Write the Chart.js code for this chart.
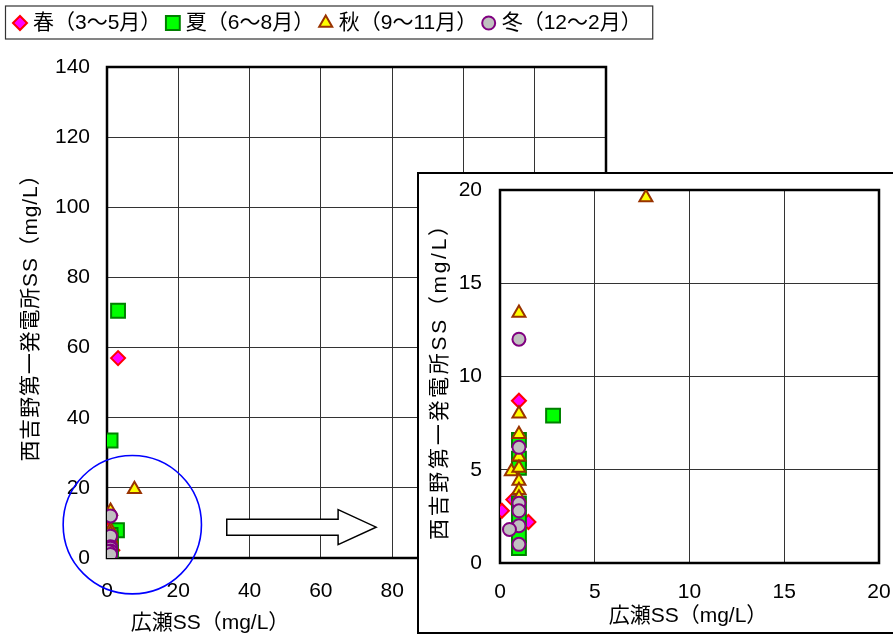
<!DOCTYPE html>
<html>
<head>
<meta charset="utf-8">
<script src="https://cdn.jsdelivr.net/npm/chart.js@4.4.0/dist/chart.umd.min.js"></script>
<style>
  html, body { margin: 0; padding: 0; background: #fff; overflow: hidden; }
  #mainChart { position: absolute; left: 0; top: 0; }
  #insetBox { position: absolute; left: 417px; top: 172px; width: 490px; height: 462px;
              border: 2px solid #000; box-sizing: border-box; background: #fff; }
  #insetChart { display: block; }
</style>
</head>
<body>
<canvas id="mainChart" width="893" height="639"></canvas>
<div id="insetBox"><canvas id="insetChart" width="486" height="458"></canvas></div>
<script>
// 広瀬SS (x) vs 西吉野第一発電所SS (y), by season
const seasonLabels = ['春（3～5月）', '夏（6～8月）', '秋（9～11月）', '冬（12～2月）'];

const springX = [3.1, 1.0, 0.7, 0.1, 1.5];
const springY = [57.0, 8.7, 3.4, 2.8, 2.2];
const summerX = [3.1, 1.0, 2.8, 1.0, 1.0, 1.0, 1.0, 1.0, 1.0, 1.0];
const summerY = [70.5, 33.5, 7.9, 6.6, 5.6, 5.1, 3.2, 2.4, 1.5, 0.8];
const autumnX = [7.7, 1.0, 1.0, 1.0, 1.0, 0.6, 1.0, 1.0, 1.0, 1.0];
const autumnY = [19.6, 13.4, 8.0, 6.9, 5.7, 4.9, 5.1, 4.4, 3.9, 3.5];
const winterX = [1.0, 1.0, 1.0, 1.0, 1.0, 0.5, 1.0];
const winterY = [12.0, 6.2, 3.2, 2.8, 2.0, 1.8, 1.0];

const mainTicks = [0, 20, 40, 60, 80, 100, 120, 140];
const insetTicks = [0, 5, 10, 15, 20];

const xTitle = '広瀬SS（mg/L）';
const yTitle = '西吉野第一発電所SS（mg/L）';

// zoom annotation on the main chart (data units)
const circleAt = [7.1, 9.5];
const circleR = 19.4;
const arrowFrom = [33.6, 8.8];
const arrowTo = [75.5, 8.8];

const FONT = "'Liberation Sans', 'Noto Sans CJK JP', sans-serif";
Chart.defaults.color = '#000';
Chart.defaults.font.family = FONT;

function pts(xs, ys) {
  return xs.map(function(v, i) { return { x: v, y: ys[i] }; });
}

function makeDatasets() {
  return [
    { label: seasonLabels[0], data: pts(springX, springY), pointStyle: 'rectRot', pointRadius: 7,
      backgroundColor: '#FF00FF', borderColor: '#FF0000', order: 4 },
    { label: seasonLabels[1], data: pts(summerX, summerY), pointStyle: 'rect', pointRadius: 9.8,
      backgroundColor: '#00FF00', borderColor: '#008000', order: 3 },
    { label: seasonLabels[2], data: pts(autumnX, autumnY), pointStyle: 'triangle', pointRadius: 7.5,
      backgroundColor: '#FFFF00', borderColor: '#993300', order: 2 },
    { label: seasonLabels[3], data: pts(winterX, winterY), pointStyle: 'circle', pointRadius: 6.5,
      backgroundColor: '#C0C0C0', borderColor: '#800080', order: 1 }
  ].map(function(d) {
    d.pointBorderWidth = 2;
    d.pointHoverRadius = d.pointRadius;
    d.showLine = false;
    return d;
  });
}

function marker(ctx, ds, cx, cy) {
  ctx.fillStyle = ds.backgroundColor;
  ctx.strokeStyle = ds.borderColor;
  ctx.lineWidth = 2;
  Chart.helpers.drawPoint(ctx, { pointStyle: ds.pointStyle, radius: ds.pointRadius, rotation: 0, borderWidth: 2 }, cx, cy);
}

// text stretched along its run, like the spreadsheet's axis titles
function spacedText(ctx, text, cx, cy, size, length, rotate) {
  ctx.save();
  ctx.translate(cx, cy);
  if (rotate) ctx.rotate(-Math.PI / 2);
  ctx.font = size + 'px ' + FONT;
  ctx.fillStyle = '#000';
  ctx.textAlign = 'left';
  ctx.textBaseline = 'middle';
  const n = Array.from(text).length;
  const w0 = ctx.measureText(text).width;
  const ls = Math.max(0, (length - w0) / (n - 1));
  if ('letterSpacing' in ctx && ls > 0) {
    ctx.letterSpacing = ls + 'px';
    ctx.fillText(text, -(w0 + ls * (n - 1)) / 2, 0);
  } else {
    ctx.fillText(text, -w0 / 2, 0);
  }
  ctx.restore();
}

// thick frame round the plot area, under the points
const frame = {
  id: 'frame',
  beforeDatasetsDraw(chart) {
    const { ctx, chartArea: a } = chart;
    ctx.save();
    ctx.lineWidth = 2.5;
    ctx.strokeStyle = '#000';
    ctx.strokeRect(a.left, a.top, a.right - a.left, a.bottom - a.top);
    ctx.restore();
  }
};

// axis titles placed where the original has them
const axisTitles = {
  id: 'axisTitles',
  afterDraw(chart, args, o) {
    spacedText(chart.ctx, xTitle, o.x[0], o.x[1], 21, o.x[2], false);
    spacedText(chart.ctx, yTitle, o.y[0], o.y[1], 21, o.y[2], true);
  }
};

// legend box, blue circle and arrow for the main chart
const mainDecor = {
  id: 'mainDecor',
  afterDraw(chart) {
    const { ctx, scales: { x, y } } = chart;
    ctx.save();

    // blue circle round the crowded corner
    ctx.beginPath();
    ctx.arc(x.getPixelForValue(circleAt[0]), y.getPixelForValue(circleAt[1]),
            x.getPixelForValue(circleR) - x.getPixelForValue(0), 0, Math.PI * 2);
    ctx.strokeStyle = '#0000FF';
    ctx.lineWidth = 1.6;
    ctx.stroke();

    // block arrow pointing to the inset
    const x0 = x.getPixelForValue(arrowFrom[0]), x1 = x.getPixelForValue(arrowTo[0]);
    const cy = y.getPixelForValue(arrowFrom[1]);
    const headLen = 38, body = 8, head = 17.5;
    ctx.beginPath();
    ctx.moveTo(x0, cy - body);
    ctx.lineTo(x1 - headLen, cy - body);
    ctx.lineTo(x1 - headLen, cy - head);
    ctx.lineTo(x1, cy);
    ctx.lineTo(x1 - headLen, cy + head);
    ctx.lineTo(x1 - headLen, cy + body);
    ctx.lineTo(x0, cy + body);
    ctx.closePath();
    ctx.fillStyle = '#fff';
    ctx.fill();
    ctx.strokeStyle = '#000';
    ctx.lineWidth = 1.5;
    ctx.stroke();

    // legend
    ctx.textAlign = 'left';
    ctx.textBaseline = 'middle';
    let cx = 20;
    const ly = 23;
    let end = cx;
    chart.data.datasets.forEach(function(ds) {
      marker(ctx, ds, cx, ly);
      ctx.fillStyle = '#000';
      ctx.font = '21px ' + FONT;
      const tx = cx + 13;
      ctx.fillText(ds.label, tx, ly);
      end = tx + ctx.measureText(ds.label).width;
      cx = end + 11.5;
    });
    ctx.lineWidth = 1.2;
    ctx.strokeStyle = '#333';
    ctx.strokeRect(5.5, 6, end + 11 - 5.5, 33);

    ctx.restore();
  }
};

function axisOpts(min, max, ticks, extra) {
  return Object.assign({
    type: 'linear',
    min: min, max: max,
    afterBuildTicks: function(scale) { scale.ticks = ticks.map(function(v) { return { value: v }; }); },
    grid: { color: '#333', lineWidth: 1, drawTicks: false },
    border: { display: false }
  }, extra);
}

function fixX(h) {
  return function(s) { s.height = h; s.paddingLeft = 0; s.paddingRight = 0; };
}
function fixY(w) {
  return function(s) { s.width = w; s.paddingTop = 0; s.paddingBottom = 0; };
}

new Chart(document.getElementById('mainChart'), {
  type: 'scatter',
  data: { datasets: makeDatasets() },
  options: {
    responsive: false,
    animation: false,
    layout: { padding: { left: 0, top: 67, right: 287, bottom: 0 } },
    plugins: {
      legend: { display: false },
      tooltip: { enabled: false },
      axisTitles: { x: [210, 623, 150], y: [31, 313, 297] }
    },
    scales: {
      x: axisOpts(0, 140, mainTicks, {
        position: 'bottom',
        ticks: { padding: 21, font: { size: 21 } },
        afterFit: fixX(81)
      }),
      y: axisOpts(0, 140, mainTicks, {
        position: 'left',
        ticks: { padding: 17, font: { size: 21 } },
        afterFit: fixY(107)
      })
    }
  },
  plugins: [frame, axisTitles, mainDecor]
});

new Chart(document.getElementById('insetChart'), {
  type: 'scatter',
  data: { datasets: makeDatasets() },
  options: {
    responsive: false,
    animation: false,
    layout: { padding: { left: 0, top: 16, right: 26, bottom: 0 } },
    plugins: {
      legend: { display: false },
      tooltip: { enabled: false },
      axisTitles: { x: [269, 442, 150], y: [21, 203.5, 325] }
    },
    scales: {
      x: axisOpts(0, 20, insetTicks, {
        position: 'bottom',
        ticks: { padding: 17, font: { size: 21 } },
        afterFit: fixX(69)
      }),
      y: axisOpts(0, 20, insetTicks, {
        position: 'left',
        ticks: { padding: 18, font: { size: 21 } },
        afterFit: fixY(81)
      })
    }
  },
  plugins: [frame, axisTitles]
});
</script>
</body>
</html>
